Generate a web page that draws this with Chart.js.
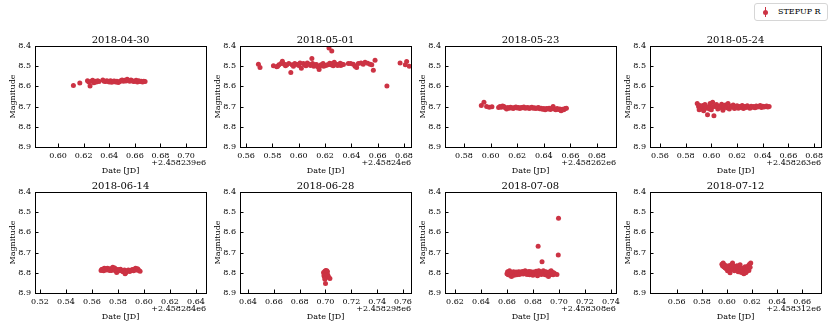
<!DOCTYPE html>
<html>
<head>
<meta charset="utf-8">
<script src="https://cdn.jsdelivr.net/npm/chart.js@4/dist/chart.umd.min.js"></script>
<style>
    body { margin: 0; background: #fff; }
    #page { position: relative; width: 830px; height: 332px; overflow: hidden; }
    .panel { position: absolute; }
    #legend {
        position: absolute; left: 754px; top: 3px; width: 72px; height: 16px;
        border: 1px solid #d6d6d6; border-radius: 3px; background: #fff;
        font: 8px "DejaVu Serif", serif; color: #000;
    }
    #legend .bar { position: absolute; left: 10px; top: 3px; width: 1px; height: 10px; background: #cc3344; }
    #legend .dot { position: absolute; left: 8px; top: 5.5px; width: 5px; height: 5px; border-radius: 50%; background: #cc3344; }
    #legend .txt { position: absolute; left: 23px; top: 3px; line-height: 10px; }
</style>
</head>
<body>
<div id="page">
    <div id="legend"><span class="bar"></span><span class="dot"></span><span class="txt">STEPUP R</span></div>
</div>
<script>
// Nights (titles) and JD offsets
const dates = ['2018-04-30', '2018-05-01', '2018-05-23', '2018-05-24',
               '2018-06-14', '2018-06-28', '2018-07-08', '2018-07-12'];
const offsets = ['+2.458239e6', '+2.45824e6', '+2.458262e6', '+2.458263e6',
                 '+2.458284e6', '+2.458298e6', '+2.458308e6', '+2.458312e6'];

// x limits per panel (fraction of day after offset)
const xLimits = [[0.582, 0.7156], [0.5554, 0.6853], [0.5657, 0.6943], [0.5522, 0.6854],
                 [0.5162, 0.6477], [0.6338, 0.7662], [0.6123, 0.7438], [0.5387, 0.675]];
const xTicks = [
    [0.60, 0.62, 0.64, 0.66, 0.68, 0.70],
    [0.56, 0.58, 0.60, 0.62, 0.64, 0.66, 0.68],
    [0.58, 0.60, 0.62, 0.64, 0.66, 0.68],
    [0.56, 0.58, 0.60, 0.62, 0.64, 0.66, 0.68],
    [0.52, 0.54, 0.56, 0.58, 0.60, 0.62, 0.64],
    [0.64, 0.66, 0.68, 0.70, 0.72, 0.74, 0.76],
    [0.62, 0.64, 0.66, 0.68, 0.70, 0.72, 0.74],
    [0.56, 0.58, 0.60, 0.62, 0.64, 0.66]
];
const magTicks = [8.4, 8.5, 8.6, 8.7, 8.8, 8.9];

// [time, magnitude] per night
const night0430 = [[0.612,8.595],[0.617,8.583],[0.623,8.572],[0.624,8.578],[0.625,8.598],[0.626,8.575],[0.627,8.570],[0.628,8.582],[0.629,8.574],[0.630,8.578],[0.631,8.572],[0.632,8.576],[0.635,8.568],[0.636,8.574],[0.637,8.576],[0.638,8.572],[0.639,8.574],[0.640,8.578],[0.641,8.572],[0.642,8.580],[0.643,8.575],[0.644,8.573],[0.645,8.578],[0.646,8.575],[0.647,8.581],[0.648,8.577],[0.649,8.572],[0.650,8.568],[0.651,8.574],[0.652,8.570],[0.653,8.573],[0.654,8.565],[0.655,8.570],[0.656,8.574],[0.657,8.568],[0.658,8.572],[0.659,8.576],[0.660,8.574],[0.661,8.570],[0.662,8.578],[0.663,8.572],[0.664,8.576],[0.665,8.574],[0.666,8.578],[0.667,8.574],[0.668,8.576]];
const night0501 = [[0.5694,8.490],[0.5706,8.507],[0.5808,8.498],[0.5833,8.503],[0.5840,8.500],[0.5850,8.493],[0.5866,8.487],[0.5876,8.475],[0.5891,8.490],[0.5900,8.498],[0.5910,8.493],[0.5925,8.487],[0.5940,8.531],[0.5950,8.493],[0.5960,8.500],[0.5970,8.487],[0.5990,8.492],[0.6000,8.497],[0.6010,8.484],[0.6020,8.510],[0.6035,8.487],[0.6045,8.493],[0.6055,8.498],[0.6065,8.484],[0.6080,8.490],[0.6090,8.497],[0.6100,8.462],[0.6105,8.487],[0.6115,8.500],[0.6125,8.493],[0.6135,8.492],[0.6145,8.503],[0.6155,8.516],[0.6160,8.500],[0.6170,8.493],[0.6185,8.487],[0.6190,8.500],[0.6200,8.497],[0.6210,8.495],[0.6220,8.493],[0.6230,8.410],[0.6235,8.485],[0.6245,8.493],[0.6251,8.425],[0.6255,8.487],[0.6262,8.498],[0.6270,8.480],[0.6285,8.490],[0.6295,8.497],[0.6300,8.493],[0.6315,8.485],[0.6320,8.497],[0.6330,8.490],[0.6340,8.492],[0.6377,8.487],[0.6395,8.487],[0.6415,8.490],[0.6428,8.500],[0.6440,8.507],[0.6453,8.487],[0.6473,8.484],[0.6490,8.490],[0.6504,8.480],[0.6524,8.485],[0.6542,8.490],[0.6555,8.493],[0.6567,8.520],[0.6580,8.470],[0.6670,8.598],[0.6770,8.484],[0.6810,8.493],[0.6820,8.477],[0.6840,8.500]];
const night0523 = [[0.593,8.695],[0.595,8.678],[0.597,8.700],[0.599,8.703],[0.601,8.701],[0.606,8.705],[0.607,8.700],[0.608,8.703],[0.609,8.697],[0.610,8.700],[0.611,8.706],[0.612,8.712],[0.613,8.704],[0.614,8.708],[0.615,8.703],[0.616,8.706],[0.617,8.710],[0.618,8.705],[0.619,8.702],[0.620,8.707],[0.621,8.705],[0.622,8.709],[0.623,8.704],[0.624,8.706],[0.625,8.702],[0.626,8.708],[0.627,8.706],[0.628,8.704],[0.629,8.709],[0.630,8.706],[0.631,8.703],[0.632,8.708],[0.633,8.706],[0.634,8.710],[0.635,8.707],[0.636,8.705],[0.637,8.711],[0.638,8.708],[0.639,8.713],[0.640,8.710],[0.641,8.715],[0.642,8.709],[0.643,8.712],[0.644,8.708],[0.645,8.714],[0.646,8.710],[0.647,8.700],[0.648,8.712],[0.649,8.716],[0.650,8.710],[0.651,8.714],[0.652,8.712],[0.653,8.720],[0.654,8.713],[0.655,8.716],[0.656,8.710],[0.657,8.708]];
const night0524 = [[0.589,8.685],[0.590,8.700],[0.5905,8.715],[0.591,8.695],[0.592,8.712],[0.593,8.705],[0.5935,8.695],[0.594,8.720],[0.595,8.690],[0.596,8.708],[0.597,8.740],[0.598,8.700],[0.5985,8.712],[0.599,8.685],[0.600,8.715],[0.601,8.678],[0.6015,8.700],[0.602,8.745],[0.603,8.700],[0.604,8.690],[0.605,8.712],[0.6055,8.700],[0.606,8.698],[0.607,8.705],[0.608,8.688],[0.609,8.718],[0.610,8.700],[0.611,8.692],[0.612,8.706],[0.613,8.685],[0.614,8.712],[0.615,8.698],[0.616,8.702],[0.617,8.692],[0.618,8.710],[0.619,8.700],[0.620,8.696],[0.621,8.708],[0.622,8.700],[0.623,8.705],[0.624,8.695],[0.625,8.710],[0.626,8.700],[0.627,8.704],[0.628,8.696],[0.629,8.702],[0.630,8.708],[0.631,8.698],[0.632,8.703],[0.633,8.700],[0.634,8.706],[0.635,8.697],[0.636,8.702],[0.637,8.700],[0.638,8.695],[0.639,8.704],[0.640,8.698],[0.641,8.702],[0.642,8.700],[0.643,8.697],[0.644,8.702],[0.645,8.700]];
const night0614 = [[0.567,8.788],[0.5675,8.784],[0.568,8.782],[0.569,8.790],[0.5695,8.778],[0.570,8.780],[0.571,8.786],[0.5715,8.781],[0.572,8.778],[0.573,8.784],[0.5735,8.788],[0.574,8.780],[0.575,8.788],[0.5755,8.780],[0.576,8.772],[0.577,8.782],[0.5775,8.776],[0.578,8.790],[0.579,8.798],[0.5795,8.786],[0.580,8.784],[0.581,8.790],[0.5815,8.785],[0.582,8.782],[0.583,8.788],[0.5835,8.792],[0.584,8.795],[0.585,8.786],[0.5855,8.805],[0.586,8.800],[0.587,8.792],[0.5875,8.788],[0.588,8.786],[0.589,8.794],[0.5895,8.790],[0.590,8.788],[0.591,8.784],[0.5915,8.786],[0.592,8.790],[0.593,8.782],[0.5935,8.778],[0.594,8.786],[0.595,8.780],[0.5955,8.784],[0.596,8.788],[0.597,8.792]];
const night0628 = [[0.6985,8.798],[0.6988,8.815],[0.6990,8.805],[0.6992,8.820],[0.6995,8.792],[0.6995,8.832],[0.6998,8.812],[0.7000,8.853],[0.7000,8.800],[0.7000,8.825],[0.7002,8.788],[0.7005,8.796],[0.7008,8.804],[0.7010,8.790],[0.7012,8.808],[0.7015,8.795],[0.7018,8.812],[0.7025,8.822],[0.7034,8.828]];
const night0708 = [[0.6600,8.805],[0.6605,8.795],[0.6610,8.810],[0.6615,8.800],[0.6620,8.790],[0.6625,8.812],[0.6630,8.802],[0.6635,8.818],[0.6640,8.798],[0.6645,8.808],[0.6650,8.795],[0.6655,8.812],[0.6660,8.800],[0.6665,8.806],[0.6670,8.796],[0.6675,8.810],[0.6680,8.800],[0.6685,8.805],[0.6690,8.795],[0.6695,8.808],[0.6700,8.800],[0.6705,8.796],[0.6710,8.805],[0.6715,8.800],[0.6720,8.794],[0.6725,8.806],[0.6730,8.798],[0.6735,8.802],[0.6740,8.790],[0.6745,8.805],[0.6750,8.798],[0.6755,8.808],[0.6760,8.796],[0.6765,8.802],[0.6770,8.794],[0.6775,8.810],[0.6780,8.800],[0.6785,8.795],[0.6790,8.805],[0.6795,8.798],[0.6800,8.812],[0.6805,8.796],[0.6810,8.804],[0.6815,8.800],[0.6825,8.792],[0.6830,8.806],[0.6835,8.815],[0.6840,8.668],[0.6845,8.790],[0.6850,8.806],[0.6855,8.795],[0.6865,8.808],[0.6870,8.745],[0.6875,8.803],[0.6880,8.790],[0.6885,8.806],[0.6890,8.798],[0.6895,8.810],[0.6900,8.795],[0.6905,8.802],[0.6910,8.812],[0.6915,8.798],[0.6920,8.818],[0.6925,8.804],[0.6930,8.795],[0.6935,8.808],[0.6940,8.790],[0.6945,8.806],[0.6950,8.798],[0.6955,8.810],[0.6960,8.800],[0.6970,8.805],[0.6985,8.808],[0.6995,8.712],[0.6997,8.530]];
const night0712 = [[0.5960,8.758],[0.5965,8.765],[0.5970,8.752],[0.5975,8.770],[0.5980,8.760],[0.5985,8.775],[0.5990,8.765],[0.5995,8.780],[0.6000,8.772],[0.6005,8.790],[0.6010,8.778],[0.6015,8.765],[0.6020,8.785],[0.6025,8.800],[0.6030,8.775],[0.6035,8.760],[0.6040,8.770],[0.6045,8.752],[0.6050,8.782],[0.6055,8.768],[0.6060,8.790],[0.6065,8.778],[0.6070,8.770],[0.6075,8.785],[0.6080,8.765],[0.6085,8.780],[0.6090,8.795],[0.6095,8.772],[0.6100,8.788],[0.6105,8.760],[0.6110,8.782],[0.6115,8.798],[0.6120,8.790],[0.6125,8.778],[0.6130,8.795],[0.6135,8.805],[0.6140,8.785],[0.6145,8.770],[0.6150,8.800],[0.6155,8.782],[0.6160,8.792],[0.6165,8.775],[0.6170,8.765],[0.6175,8.788],[0.6180,8.758],[0.6185,8.772],[0.6190,8.752]];

const nights = [night0430, night0501, night0523, night0524, night0614, night0628, night0708, night0712];

// Layout (pixel grid of the subplots)
const COL_LEFT = [35, 240, 445, 650];
const ROW_TOP = [46, 192];
const PLOT_W = 171;
const PLOT_H = 101;
const PAD_LEFT = 35, PAD_TOP = 20, PAD_RIGHT = 8, PAD_BOTTOM = 32;

const RED = '#cc3344';
const FONT = '"DejaVu Serif", serif';

/**
 * Frame, inward ticks, title and offset text
 */
const panelDecor = {
    id: 'panelDecor',
    afterDraw(chart, args, opts) {
        const { ctx, chartArea: a, scales } = chart;
        ctx.save();
        ctx.strokeStyle = '#000';
        ctx.lineWidth = 1;
        ctx.beginPath();
        scales.x.ticks.forEach(t => {
            const px = Math.round(scales.x.getPixelForValue(t.value)) + 0.5;
            ctx.moveTo(px, a.bottom);
            ctx.lineTo(px, a.bottom - 3.5);
        });
        scales.y.ticks.forEach(t => {
            const py = Math.round(scales.y.getPixelForValue(t.value)) + 0.5;
            ctx.moveTo(a.left, py);
            ctx.lineTo(a.left + 3.5, py);
        });
        ctx.stroke();
        ctx.strokeRect(Math.round(a.left) + 0.5, Math.round(a.top) + 0.5,
                       Math.round(a.right - a.left), Math.round(a.bottom - a.top));

        ctx.fillStyle = '#000';
        ctx.font = '10px ' + FONT;
        ctx.textAlign = 'center';
        ctx.textBaseline = 'middle';
        ctx.fillText(opts.title, (a.left + a.right) / 2, a.top - 6);

        ctx.font = '8px ' + FONT;
        ctx.textAlign = 'right';
        ctx.fillText(opts.offset, a.right, a.bottom + 16);
        ctx.restore();
    }
};

function makePanel(i) {
    const col = i % 4, row = Math.floor(i / 4);
    const w = PAD_LEFT + PLOT_W + PAD_RIGHT;
    const h = PAD_TOP + PLOT_H + PAD_BOTTOM;

    const canvas = document.createElement('canvas');
    canvas.className = 'panel';
    canvas.width = w;
    canvas.height = h;
    canvas.style.left = (COL_LEFT[col] - PAD_LEFT) + 'px';
    canvas.style.top = (ROW_TOP[row] - PAD_TOP) + 'px';
    canvas.style.width = w + 'px';
    canvas.style.height = h + 'px';
    document.getElementById('page').appendChild(canvas);

    const tickFont = { family: FONT, size: 8 };

    new Chart(canvas, {
        type: 'scatter',
        data: {
            datasets: [{
                label: 'STEPUP R',
                data: nights[i].map(([t, m]) => ({ x: t, y: m })),
                backgroundColor: RED,
                borderColor: RED,
                borderWidth: 0,
                pointRadius: 2.5
            }]
        },
        options: {
            responsive: false,
            animation: false,
            devicePixelRatio: 1,
            layout: { padding: { left: 0, top: PAD_TOP, right: PAD_RIGHT, bottom: 0 } },
            plugins: {
                legend: { display: false },
                tooltip: { enabled: false },
                panelDecor: { title: dates[i], offset: offsets[i] }
            },
            scales: {
                x: {
                    type: 'linear',
                    min: xLimits[i][0],
                    max: xLimits[i][1],
                    grid: { display: false, drawTicks: false },
                    border: { display: false },
                    afterBuildTicks: s => { s.ticks = xTicks[i].map(v => ({ value: v })); },
                    afterFit: s => { s.height = PAD_BOTTOM; },
                    ticks: {
                        autoSkip: false, maxRotation: 0, padding: 4,
                        color: '#000', font: tickFont,
                        callback: v => v.toFixed(2)
                    },
                    title: {
                        display: true, text: 'Date [JD]', color: '#000',
                        font: tickFont, padding: { top: 0, bottom: 3 }
                    }
                },
                y: {
                    type: 'linear',
                    reverse: true,
                    min: 8.4,
                    max: 8.9,
                    grid: { display: false, drawTicks: false },
                    border: { display: false },
                    afterBuildTicks: s => { s.ticks = magTicks.map(v => ({ value: v })); },
                    afterFit: s => { s.width = PAD_LEFT; },
                    ticks: {
                        padding: 4, color: '#000', font: tickFont,
                        callback: v => v.toFixed(1)
                    },
                    title: {
                        display: true, text: 'Magnitude', color: '#000',
                        font: tickFont, padding: { top: 8, bottom: 0 }
                    }
                }
            }
        },
        plugins: [panelDecor]
    });
}

for (let i = 0; i < dates.length; i++) makePanel(i);
</script>
</body>
</html>
